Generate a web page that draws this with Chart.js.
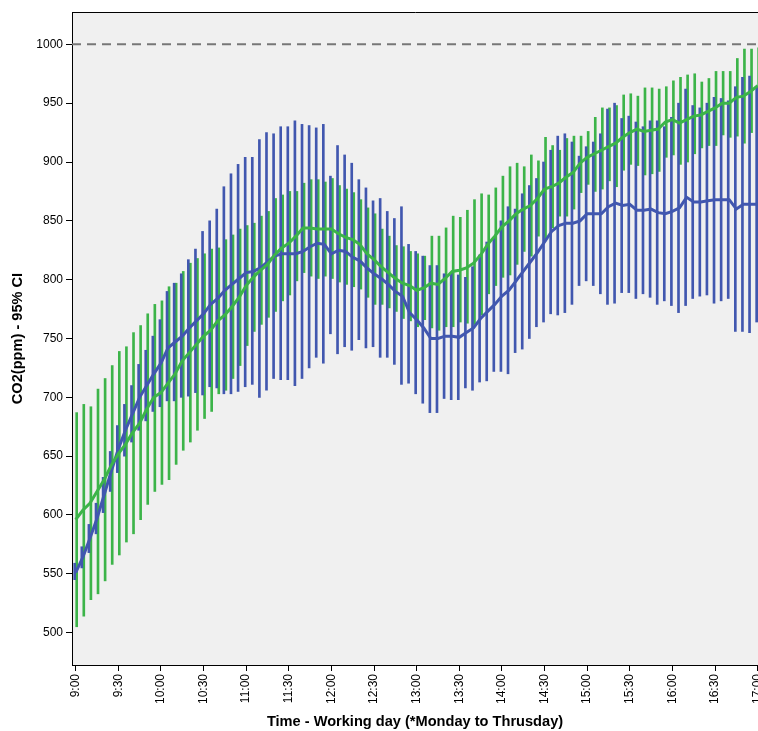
<!DOCTYPE html>
<html>
<head>
<meta charset="utf-8">
<script src="https://cdn.jsdelivr.net/npm/chart.js@4.4.1/dist/chart.umd.min.js"></script>
<style>
html,body{margin:0;padding:0;background:#ffffff;overflow:hidden}
canvas{display:block}
</style>
</head>
<body>
<canvas id="c" width="758" height="731"></canvas>
<script>
// ---- data (5-minute slots from 9:00 to 17:00) ----
const tickLabels = ['9:00','9:30','10:00','10:30','11:00','11:30','12:00','12:30','13:00','13:30','14:00','14:30','15:00','15:30','16:00','16:30','17:00'];
const slotsPerTick = 6;
const yTicks = [500,550,600,650,700,750,800,850,900,950,1000];
const referenceLevel = 1000;

const blueMean = [551,564,580,597,617,637,656,672,686,700, 710,720,729,742,747,752,759,765,771,779,
  784,791,796,801,806,807,810,815,820,822, 822,822,824,828,831,830,822,825,824,819,
  816,810,805,801,796,790,786,772,766,759, 750,750,752,752,751,755,759,767,773,779,
  786,791,799,807,815,823,832,841,846,848, 848,850,856,856,856,862,865,863,864,859,
  859,860,857,856,858,861,870,866,866,867, 868,868,868,860,864,864,864];
const blueLow = [545,555,568,584,602,620,636,650,662,672, 680,688,692,697,697,700,701,704,702,709,
  708,703,703,705,709,711,700,706,716,715, 715,710,716,725,734,729,754,737,743,740,
  749,742,743,734,734,728,711,712,703,695, 687,687,699,698,698,708,706,713,714,722,
  722,720,738,741,750,760,764,771,770,772, 779,795,799,795,788,779,780,789,789,784,
  788,785,779,782,778,772,778,784,786,787, 780,782,784,756,756,755,764];
const blueHigh = [559,573,592,610,632,654,676,694,710,728, 740,752,766,790,797,805,817,826,841,850,
  860,879,890,898,904,904,919,925,924,930, 930,935,932,931,929,932,888,914,906,899,
  885,878,867,869,858,852,862,830,824,820, 812,812,805,806,804,802,811,821,832,836,
  850,862,860,873,880,886,900,910,922,924, 917,905,913,917,924,945,950,937,939,934,
  930,935,935,930,938,950,962,948,946,950, 955,954,952,964,972,973,964];

const greenMean = [596,604,610,620,630,642,652,660,670,678, 690,700,704,712,720,731,738,745,752,757,
  765,770,777,785,795,802,808,813,821,827, 831,837,844,844,843,843,843,839,836,834,
  830,822,817,811,806,801,797,795,791,793, 797,796,801,807,808,810,814,821,830,837,
  845,850,856,860,863,869,877,879,882,887, 891,899,904,907,910,913,916,921,925,928,
  926,927,928,934,936,933,936,939,940,943, 946,950,950,955,956,960,965];
const greenLow = [505,514,528,533,544,558,566,577,584,596, 609,620,626,630,643,655,662,672,682,688,
  703,706,716,727,744,756,762,768,773,782, 787,799,806,803,801,803,801,798,796,794,
  792,785,779,779,776,773,767,765,760,766, 759,757,760,760,764,763,762,770,788,795,
  802,804,813,824,820,837,833,844,854,854, 860,874,881,875,877,884,879,893,898,897,
  889,890,892,904,906,898,900,907,912,914, 914,923,921,922,916,925,933];
const greenHigh = [687,694,692,707,716,727,739,743,755,761, 771,779,782,794,797,807,814,818,822,826,
  827,834,838,843,846,848,854,858,869,872, 875,875,882,885,885,883,886,880,877,874,
  868,861,856,843,837,829,828,824,822,820, 837,837,844,854,853,859,868,873,872,878,
  888,896,899,896,906,901,921,914,910,920, 922,922,926,938,946,946,948,957,958,956,
  963,963,962,964,969,972,974,975,968,971, 977,977,977,988,996,996,997];

// axis bounds
const xMin = -0.52, xMax = 96.05;
const yMin = 472.5, yMax = 1027.5;

// ---- styling ----
const BLUE = '#4157af';
const GREEN = '#3cb449';
const FONT = "'Liberation Sans', Arial, sans-serif";

const ciBars = (low, high) => low.map((lo, i) => ({x: i, y: [lo, high[i]]}));
const meanLine = (mean) => mean.map((v, i) => ({x: i, y: v}));

const plotBg = {
  id: 'plotBg',
  beforeDraw(chart) {
    const {ctx, chartArea: a} = chart;
    ctx.save();
    ctx.fillStyle = '#f0f0f0';
    ctx.fillRect(a.left, a.top, a.right - a.left, a.bottom - a.top);
    ctx.restore();
  }
};

new Chart(document.getElementById('c'), {
  type: 'bar',
  data: {
    datasets: [
      {type: 'line', label: 'Limit', data: [{x: xMin, y: referenceLevel}, {x: xMax, y: referenceLevel}],
       borderColor: '#777777', borderWidth: 2, borderDash: [9, 6], pointRadius: 0, order: 5},
      {type: 'bar', label: 'Blue CI', data: ciBars(blueLow, blueHigh), backgroundColor: BLUE,
       barThickness: 2, borderWidth: 0, order: 3},
      {type: 'bar', label: 'Green CI', data: ciBars(greenLow, greenHigh), backgroundColor: GREEN,
       barThickness: 2, borderWidth: 0, order: 4},
      {type: 'line', label: 'Blue mean', data: meanLine(blueMean), borderColor: BLUE, borderWidth: 3,
       pointRadius: 0, tension: 0, order: 2},
      {type: 'line', label: 'Green mean', data: meanLine(greenMean), borderColor: GREEN, borderWidth: 3,
       pointRadius: 0, tension: 0, order: 1}
    ]
  },
  plugins: [plotBg],
  options: {
    responsive: false,
    animation: false,
    devicePixelRatio: 1,
    events: [],
    layout: {padding: {top: 12, left: 0, right: 0, bottom: 0}},
    plugins: {legend: {display: false}, tooltip: {enabled: false}},
    scales: {
      x: {
        type: 'linear', position: 'bottom', min: xMin, max: xMax, offset: false,
        grid: {display: true, drawOnChartArea: false, drawTicks: true, tickLength: 6, tickColor: '#000', offset: false},
        border: {display: true, color: '#000', width: 1},
        ticks: {autoSkip: false, minRotation: 90, maxRotation: 90, padding: 3, color: '#000',
          font: {family: FONT, size: 12},
          callback: (v) => tickLabels[Math.round(v / slotsPerTick)]},
        afterBuildTicks: (s) => { s.ticks = tickLabels.map((_, k) => ({value: k * slotsPerTick})); },
        title: {display: true, text: 'Time - Working day (*Monday to Thrusday)', color: '#000',
          font: {family: FONT, size: 14.6, weight: 'bold'}, padding: {top: 0, bottom: 0}},
        afterFit: (s) => { s.height = 66; s.paddingLeft = 0; s.paddingRight = 0; }
      },
      x2: {
        type: 'linear', position: 'top', display: true, min: 0, max: 1,
        grid: {display: false, drawTicks: false},
        ticks: {display: false},
        border: {display: true, color: '#000', width: 1},
        afterFit: (s) => { s.height = 0; s.paddingLeft = 0; s.paddingRight = 0; }
      },
      y: {
        type: 'linear', position: 'left', min: yMin, max: yMax,
        grid: {display: true, drawOnChartArea: false, drawTicks: true, tickLength: 6, tickColor: '#000'},
        border: {display: true, color: '#000', width: 1},
        ticks: {padding: 3, color: '#000', font: {family: FONT, size: 12}, callback: (v) => String(v)},
        afterBuildTicks: (s) => { s.ticks = yTicks.map(v => ({value: v})); },
        title: {display: true, text: 'CO2(ppm) - 95% CI', color: '#000',
          font: {family: FONT, size: 14.6, weight: 'bold'}, padding: {top: 9, bottom: 0}},
        afterFit: (s) => { s.width = 72; s.paddingTop = 0; s.paddingBottom = 0; }
      }
    }
  }
});
</script>
</body>
</html>
